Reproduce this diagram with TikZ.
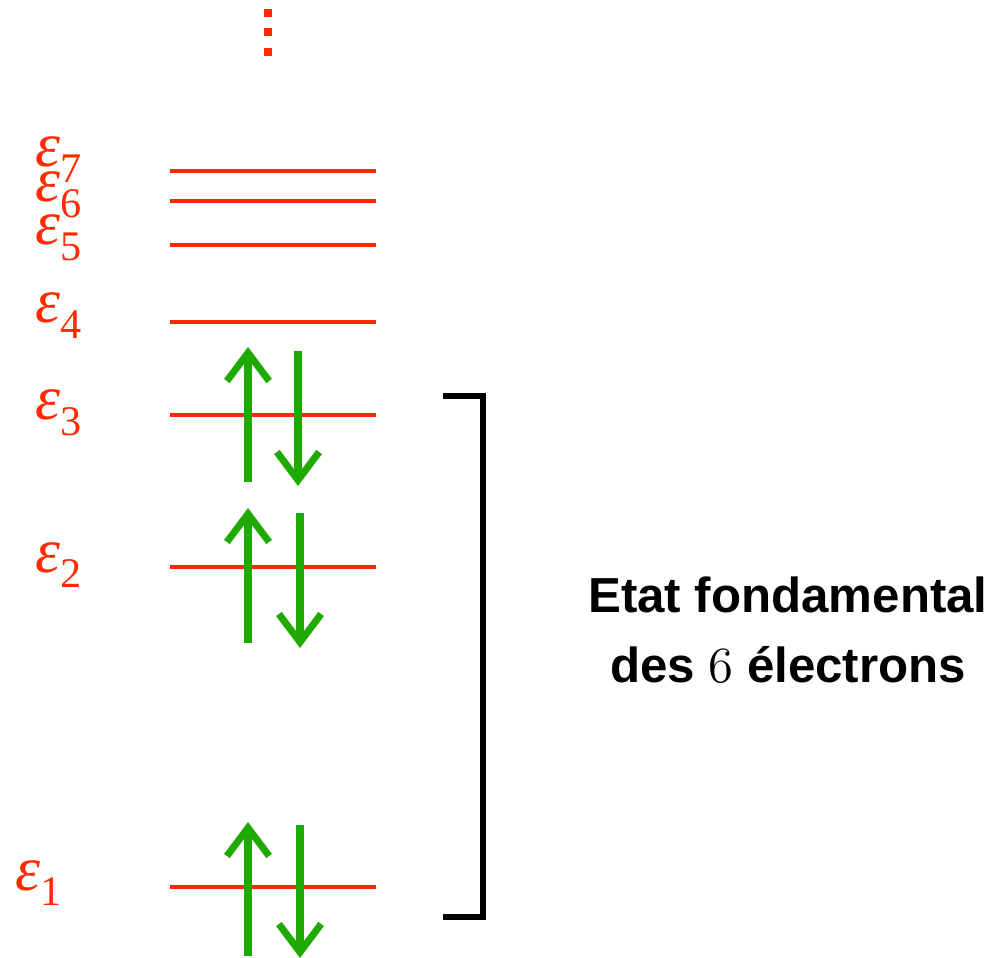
\documentclass[tikz,border=0pt]{standalone}
\usepackage{fontspec}
\setmainfont{Liberation Sans}
\newfontfamily\lvlfont{Liberation Serif}
\usetikzlibrary{arrows.meta}
\definecolor{lvl}{HTML}{FF2A00}
\definecolor{spin}{HTML}{1EAA00}
\newcommand{\eps}[1]{{\lvlfont\fontsize{18}{20}\selectfont\itshape ε\/}\raisebox{-4.3pt}{\lvlfont\fontsize{12}{14}\selectfont #1}}
\tikzset{
  level/.style={draw=lvl, line width=1.1pt},
  lab/.style={text=lvl, inner sep=0pt, anchor=base west},
  spinarrow/.style={draw=spin, line width=2pt, -{Straight Barb[length=8pt,width=12pt,line width=2pt]}},
  brace/.style={draw=black, line width=1.6pt},
  dotsq/.style={fill=lvl, minimum size=2.4pt, inner sep=0pt},
  info/.style={font=\fontsize{14}{20}\selectfont\bfseries, align=center}
}
\begin{document}
\begin{tikzpicture}[x=0.01cm,y=-0.01cm]
\useasboundingbox (0,0) rectangle (1000,958);
% dots
\node[dotsq] (d1) at (268,13) {};
\node[dotsq] (d2) at (268,32) {};
\node[dotsq] (d3) at (268,52) {};
% levels
\foreach \n/\y in {7/171,6/201,5/245,4/322,3/415,2/567,1/887}{
  \coordinate (L\n a) at (170,\y);
  \coordinate (L\n b) at (376,\y);
  \draw[level] (L\n a) -- (L\n b);
}
% labels
\node[lab] (e7) at (35,167) {\eps{7}};
\node[lab] (e6) at (35,202) {\eps{6}};
\node[lab] (e5) at (35,245) {\eps{5}};
\node[lab] (e4) at (35,323) {\eps{4}};
\node[lab] (e3) at (35,420) {\eps{3}};
\node[lab] (e2) at (35,572) {\eps{2}};
\node[lab] (e1) at (15,890) {\eps{1}};
% spins
\coordinate (u3s) at (248,482); \coordinate (u3e) at (248,347);
\coordinate (d3s) at (298,351); \coordinate (d3e) at (298,486);
\coordinate (u2s) at (248,643); \coordinate (u2e) at (248,508);
\coordinate (d2s) at (300,513); \coordinate (d2e) at (300,648);
\coordinate (u1s) at (248,956); \coordinate (u1e) at (248,822);
\coordinate (d1s) at (300,825); \coordinate (d1e) at (300,958);
\draw[spinarrow] (u3s) -- (u3e);
\draw[spinarrow] (d3s) -- (d3e);
\draw[spinarrow] (u2s) -- (u2e);
\draw[spinarrow] (d2s) -- (d2e);
\draw[spinarrow] (u1s) -- (u1e);
\draw[spinarrow] (d1s) -- (d1e);
% bracket
\coordinate (b1) at (443,396);
\coordinate (b2) at (483,396);
\coordinate (b3) at (483,917);
\coordinate (b4) at (443,917);
\draw[brace] (b1) -- (b2) -- (b3) -- (b4);
% text
\node[info] (t) at (788,630) {Etat fondamental\\des {\normalfont\fontsize{15}{17}\selectfont$6$} électrons};
\end{tikzpicture}
\end{document}
